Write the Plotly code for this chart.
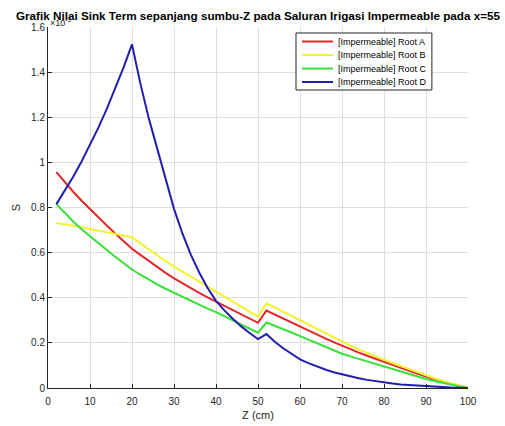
import plotly.graph_objects as go

# Z positions (cm)
z = [2, 4, 6, 8, 10, 12, 14, 16, 18, 20, 22, 24, 26, 28, 30, 32, 34, 36, 38, 40,
     42, 44, 46, 48, 50, 52, 54, 56, 58, 60, 62, 64, 66, 68, 70, 72, 74, 76, 78, 80,
     82, 84, 86, 88, 90, 92, 94, 96, 98, 100]

# Sink term values (x 1e-3)
root_a = [0.957, 0.912, 0.870, 0.830, 0.792, 0.755, 0.720, 0.685, 0.650, 0.617,
          0.590, 0.562, 0.537, 0.510, 0.486, 0.464, 0.443, 0.422, 0.402, 0.383,
          0.364, 0.345, 0.326, 0.307, 0.289, 0.343, 0.325, 0.307, 0.289, 0.272,
          0.254, 0.237, 0.220, 0.203, 0.187, 0.172, 0.157, 0.143, 0.129, 0.115,
          0.102, 0.089, 0.076, 0.063, 0.050, 0.039, 0.028, 0.018, 0.009, 0.0]
root_b = [0.731, 0.726, 0.720, 0.713, 0.705, 0.698, 0.692, 0.684, 0.676, 0.668,
          0.641, 0.614, 0.587, 0.562, 0.538, 0.515, 0.493, 0.471, 0.449, 0.427,
          0.405, 0.383, 0.361, 0.338, 0.316, 0.375, 0.356, 0.337, 0.319, 0.301,
          0.281, 0.262, 0.242, 0.223, 0.205, 0.188, 0.170, 0.154, 0.139, 0.125,
          0.111, 0.097, 0.083, 0.069, 0.055, 0.043, 0.031, 0.020, 0.010, 0.0]
root_c = [0.815, 0.775, 0.738, 0.704, 0.672, 0.642, 0.612, 0.582, 0.553, 0.525,
          0.502, 0.480, 0.459, 0.440, 0.422, 0.404, 0.386, 0.369, 0.352, 0.336,
          0.318, 0.300, 0.281, 0.263, 0.245, 0.290, 0.276, 0.261, 0.246, 0.230,
          0.214, 0.198, 0.183, 0.167, 0.152, 0.140, 0.129, 0.118, 0.107, 0.096,
          0.084, 0.072, 0.060, 0.050, 0.040, 0.031, 0.022, 0.014, 0.007, 0.0]
root_d = [0.815, 0.874, 0.936, 1.004, 1.076, 1.154, 1.237, 1.326, 1.421, 1.523,
          1.349, 1.195, 1.058, 0.921, 0.794, 0.685, 0.591, 0.512, 0.443, 0.386,
          0.344, 0.307, 0.273, 0.244, 0.217, 0.239, 0.205, 0.176, 0.150, 0.127,
          0.110, 0.095, 0.082, 0.070, 0.060, 0.051, 0.043, 0.036, 0.030, 0.025,
          0.020, 0.016, 0.013, 0.010, 0.008, 0.006, 0.004, 0.002, 0.001, 0.0]

names = ["[Impermeable] Root A", "[Impermeable] Root B",
         "[Impermeable] Root C", "[Impermeable] Root D"]
series = [root_a, root_b, root_c, root_d]
colors = ["#e3262a", "#f2f22e", "#38e038", "#1f1fb0"]

FONT = "Liberation Sans, Arial, Helvetica, sans-serif"

fig = go.Figure()
for nm, ys, c in zip(names, series, colors):
    fig.add_trace(go.Scatter(x=z, y=ys, mode="lines", name=nm, showlegend=False,
                             line=dict(color=c, width=2)))

axis_common = dict(
    showline=True, linecolor="#262626", linewidth=1, mirror=False,
    ticks="inside", ticklen=4, tickcolor="#262626", automargin=False,
    showgrid=True, gridcolor="#dedede", gridwidth=1, zeroline=False,
    tickfont=dict(family=FONT, size=10, color="#262626"),
)

fig.update_layout(
    width=505, height=426,
    margin=dict(l=48, r=37, t=27, b=38),
    paper_bgcolor="white", plot_bgcolor="white",
    title=dict(text="<b>Grafik Nilai Sink Term sepanjang sumbu-Z pada Saluran Irigasi Impermeable pada x=55</b>",
               xref="paper", x=0.5, xanchor="center", y=0.962, yanchor="middle",
               font=dict(family=FONT, size=11.7, color="#000000")),
    xaxis=dict(range=[0, 100], dtick=10, tick0=0, ticklabelstandoff=4,
               title=dict(text="Z (cm)", standoff=5,
                          font=dict(family=FONT, size=11, color="#262626")),
               **axis_common),
    yaxis=dict(range=[0, 1.6], dtick=0.2, tick0=0,
               title=dict(text="S", standoff=8,
                          font=dict(family=FONT, size=11, color="#262626")),
               **axis_common),
    showlegend=False,
)

# exponent label (MATLAB style)
fig.add_annotation(text="×10<sup>-3</sup>", xref="paper", yref="paper",
                   x=0, y=1.0, xanchor="left", yanchor="bottom", yshift=-3,
                   showarrow=False,
                   font=dict(family=FONT, size=9, color="#262626"))

# legend box (MATLAB style, compact rows)
lx0, lx1, ly0, ly1 = 0.5905, 0.914, 0.8255, 0.9834
fig.add_shape(type="rect", xref="paper", yref="paper", x0=lx0, x1=lx1, y0=ly0, y1=ly1,
              line=dict(color="#262626", width=1), fillcolor="white", layer="above")
row_y = [0.9598, 0.9224, 0.8850, 0.8476]
for nm, c, ry in zip(names, colors, row_y):
    fig.add_shape(type="line", xref="paper", yref="paper", x0=0.6048, x1=0.6786,
                  y0=ry, y1=ry, line=dict(color=c, width=2), layer="above")
    fig.add_annotation(text=nm, xref="paper", yref="paper", x=0.6857, y=ry,
                       xanchor="left", yanchor="middle", showarrow=False,
                       font=dict(family=FONT, size=9, color="#000000"))

fig.write_html("out.html")
